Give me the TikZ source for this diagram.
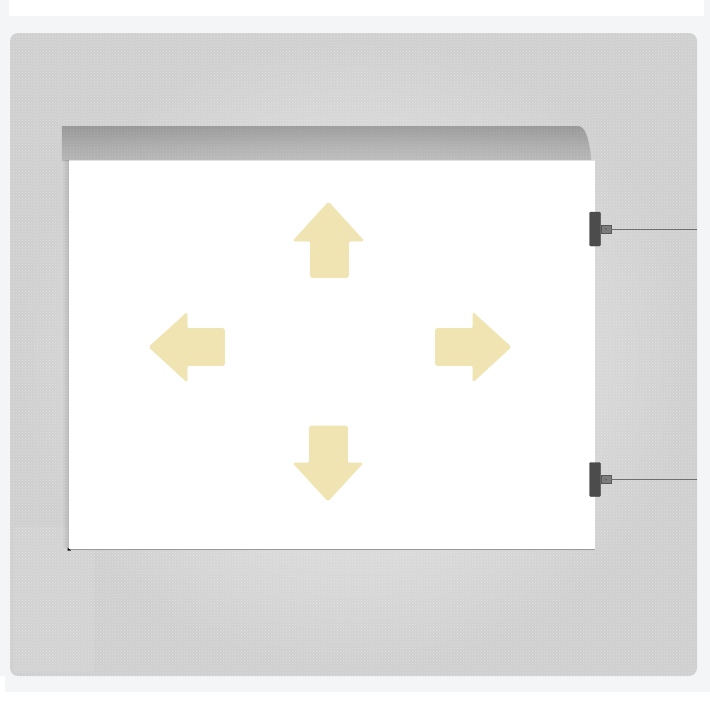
\documentclass[tikz,border=0pt]{standalone}
\usetikzlibrary{patterns,fadings}
\definecolor{pagebg}{HTML}{F4F5F6}
\definecolor{arrowfill}{HTML}{EFE4B2}
\definecolor{clipdark}{HTML}{4C4C4C}
\definecolor{cliptab}{HTML}{7C7C7C}
\definecolor{wire}{HTML}{6E6E6E}
% y axis is flipped in the picture, so 0bp maps to the top of the path here
\pgfdeclareverticalshading{shadowvert}{100bp}{color(0bp)=(pgftransparent!100); color(55bp)=(pgftransparent!55); color(100bp)=(pgftransparent!0)}
\pgfdeclarefading{shadowup}{\pgfuseshading{shadowvert}}
\tikzset{
  arrowshape/.style={fill=arrowfill, draw=arrowfill, line width=0.6pt, rounded corners=1.5pt},
  clipbar/.style={fill=clipdark, draw=clipdark!80!black, rounded corners=1.2pt, minimum width=11pt, minimum height=34pt, inner sep=0pt},
  cliptabstyle/.style={fill=cliptab, draw=cliptab!70!black, line width=0.3pt, minimum width=10pt, minimum height=8pt, inner sep=0pt},
  wireline/.style={draw=wire, line width=1pt},
  board/.style={fill=white, draw=none}
}
\begin{document}
\begin{tikzpicture}[x=1pt,y=-1pt]
\useasboundingbox (0,0) rectangle (710,710);
% page background
\fill[pagebg] (0,0) rectangle (710,692);
\fill[white] (9,0) rectangle (704,16);
\fill[white] (0,692) rectangle (710,710);
\fill[white] (0,676) rectangle (5,692);
% textured panel
\shade[inner color=black!8, outer color=black!19, rounded corners=8pt] (10,33) rectangle (697,676);
\fill[pattern=crosshatch dots, pattern color=white, opacity=0.35, rounded corners=8pt] (10,33) rectangle (697,676);
% faint lighter strips at bottom left
\fill[white, opacity=0.07] (14,527) rectangle (68,672);
\fill[white, opacity=0.07] (68,549) rectangle (94,672);
% board shadow (soft, cast upwards)
\fill[black, opacity=0.38, path fading=shadowup] (62,161) -- (62,126) -- (578,126) to[out=0,in=-100] (593,161) -- cycle;
\fill[black, opacity=0.14, path fading=west] (62,160) rectangle (69.5,548);
% board
\node[board, minimum width=526pt, minimum height=389pt, inner sep=0pt, anchor=north west] (boardnode) at (69,160) {};
\draw[black!12, line width=0.8pt] (boardnode.north west) -- (boardnode.north east);
\draw[black!40, line width=0.8pt] (boardnode.south west) -- (boardnode.south east);
\fill[black] (67.5,547.5) -- (71,550.5) -- (67.5,550.5) -- cycle;
% arrows
% up
\path[arrowshape] (328.5,202) -- (364,241) -- (348.5,241) -- (348.5,277.5) -- (310.5,277.5) -- (310.5,241) -- (293,241) -- cycle;
% down
\path[arrowshape] (328,501) -- (363,463) -- (347.5,463) -- (347.5,426) -- (309.5,426) -- (309.5,463) -- (293,463) -- cycle;
% left
\path[arrowshape] (149,347) -- (187,312.5) -- (187,328.5) -- (224.5,328.5) -- (224.5,365.5) -- (187,365.5) -- (187,382) -- cycle;
% right
\path[arrowshape] (511,347) -- (473,312.5) -- (473,328.5) -- (435.5,328.5) -- (435.5,365.5) -- (473,365.5) -- (473,382) -- cycle;
% clips and wires
\node[clipbar] (clipA) at (595,229) {};
\node[cliptabstyle, anchor=west] (tabA) at (clipA.east) {};
\fill[black!60] (tabA.center) circle (1.2pt);
\coordinate (endA) at (697,229);
\draw[wireline] (tabA.east) -- (endA);
\node[clipbar] (clipB) at (595,479.5) {};
\node[cliptabstyle, anchor=west] (tabB) at (clipB.east) {};
\fill[black!60] (tabB.center) circle (1.2pt);
\coordinate (endB) at (697,479.5);
\draw[wireline] (tabB.east) -- (endB);
\end{tikzpicture}
\end{document}
